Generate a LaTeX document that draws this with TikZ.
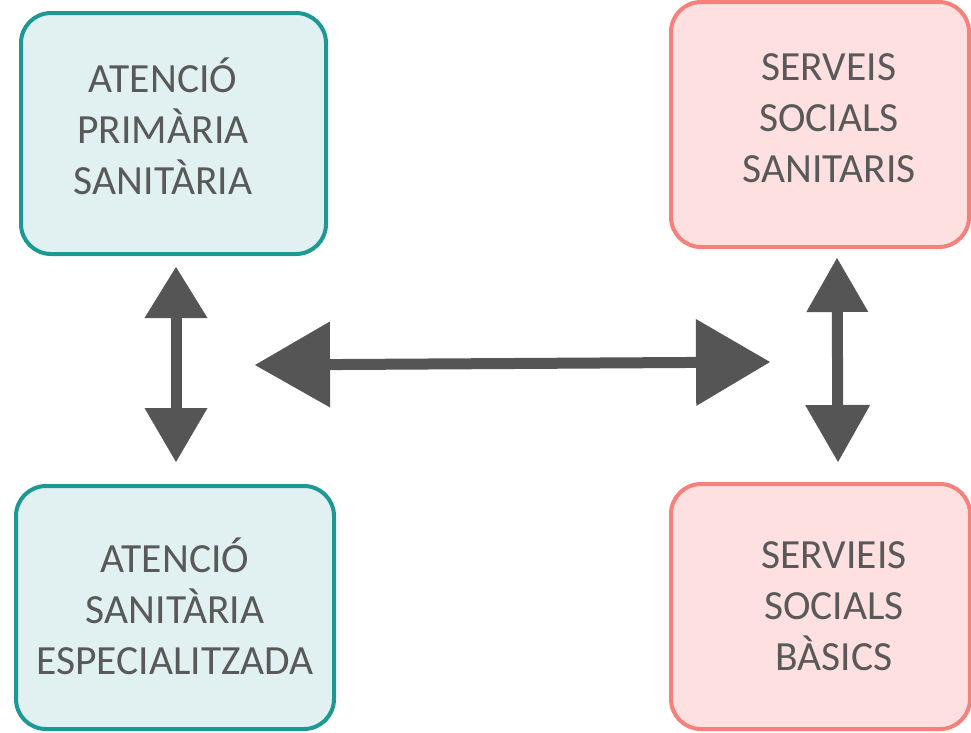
\documentclass[tikz,border=0pt]{standalone}
\usepackage{fontspec}
\setmainfont{Carlito}
\usetikzlibrary{arrows.meta}
\definecolor{tealline}{RGB}{28,152,149}
\definecolor{tealfill}{RGB}{225,240,240}
\definecolor{redline}{RGB}{246,128,122}
\definecolor{redfill}{RGB}{255,224,224}
\definecolor{txtgray}{RGB}{89,89,89}
\definecolor{arrgray}{RGB}{85,85,85}
\tikzset{
  boxbase/.style={rectangle, rounded corners=30pt, line width=4pt, inner sep=0pt},
  tealbox/.style={boxbase, draw=tealline, fill=tealfill},
  redbox/.style={boxbase, draw=redline, fill=redfill},
  boxtext/.style={anchor=north, inner sep=0pt, align=center, text=txtgray,
    font=\fontsize{41.5}{51}\selectfont},
  dblarrow/.style={line width=11pt, draw=arrgray}
}
\newcommand{\fstrut}{\rule{0pt}{36pt}}
\begin{document}
\begin{tikzpicture}[x=1pt,y=-1pt]
\useasboundingbox (0,0) rectangle (971,732);
% boxes
\node[tealbox, minimum width=305pt, minimum height=241pt] (tl) at (173.5,133.5) {};
\node[redbox, minimum width=298pt, minimum height=245pt] (tr) at (820,124.5) {};
\node[tealbox, minimum width=318pt, minimum height=243pt] (bl) at (175,607.5) {};
\node[redbox, minimum width=299pt, minimum height=245pt] (br) at (820.5,606.5) {};
% texts
\node[boxtext] (tlt) at (163,56) {\fstrut ATENCIÓ\\PRIMÀRIA\\SANITÀRIA};
\node[boxtext] (trt) at (829,44) {\fstrut SERVEIS\\SOCIALS\\SANITARIS};
\node[boxtext] (blt) at (175,536) {\fstrut ATENCIÓ\\SANITÀRIA\\ESPECIALITZADA};
\node[boxtext] (brt) at (834,532) {\fstrut SERVIEIS\\SOCIALS\\BÀSICS};
% arrow end points
\coordinate (lva) at (176,267);
\coordinate (lvb) at (176,462);
\coordinate (ha) at (255,365);
\coordinate (hb) at (770,362);
\coordinate (rva) at (837,258);
\coordinate (rvb) at (838,462);
% arrows
\draw[dblarrow, {Triangle[length=51pt,width=63pt,line width=0pt]}-{Triangle[length=54pt,width=63pt,line width=0pt]}] (lva) -- (lvb);
\draw[dblarrow, {Triangle[length=75pt,width=86pt,line width=0pt]}-{Triangle[length=74pt,width=87pt,line width=0pt]}] (ha) -- (hb);
\draw[dblarrow, {Triangle[length=54pt,width=62pt,line width=0pt]}-{Triangle[length=57pt,width=65pt,line width=0pt]}] (rva) -- (rvb);
\end{tikzpicture}
\end{document}
